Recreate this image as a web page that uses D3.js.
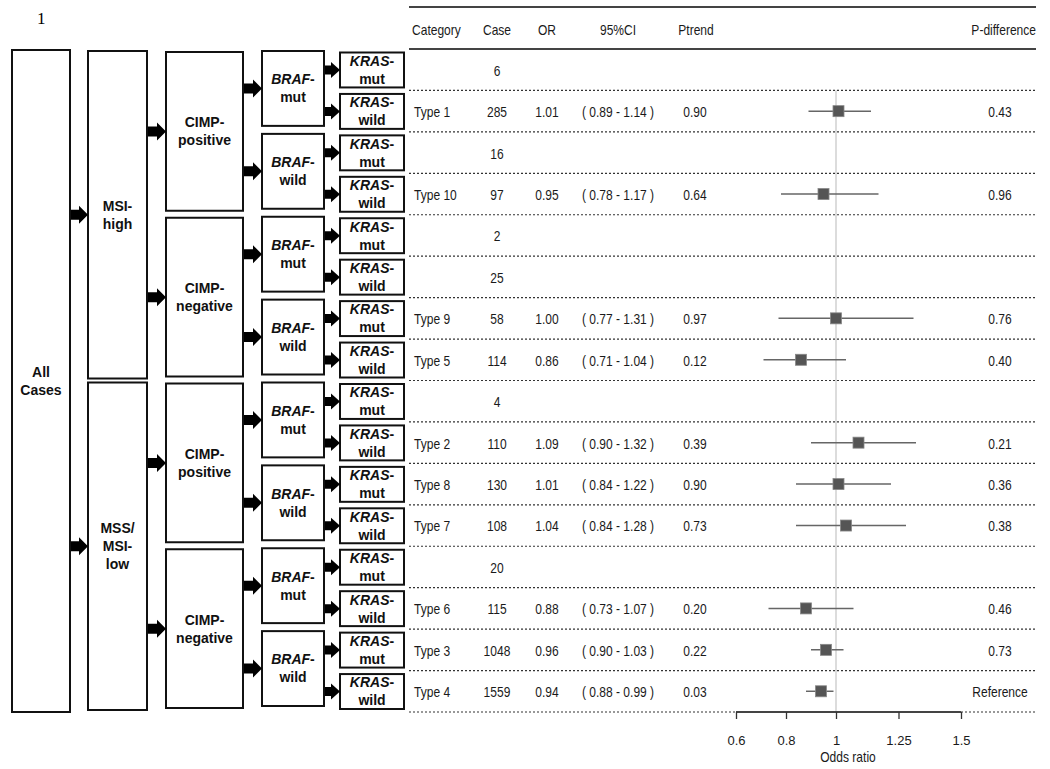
<!DOCTYPE html>
<html>
<head>
<meta charset="utf-8">
<script src="https://cdn.jsdelivr.net/npm/d3@7"></script>
<style>
  html, body { margin: 0; padding: 0; background: #fff; }
  svg { display: block; }
  .tbl { font-family: "Liberation Sans Narrow", "Arial Narrow", "Liberation Sans", Arial, sans-serif; font-size: 14px; fill: #1a1a1a; }
  .box text { font-family: "Liberation Sans", Arial, sans-serif; font-size: 14px; font-weight: bold; fill: #111; }
</style>
</head>
<body>
<svg id="chart" width="1050" height="769"></svg>
<script>
// ---------------- DATA ----------------
const categories = [null, "Type 1", null, "Type 10", null, null, "Type 9", "Type 5", null, "Type 2", "Type 8", "Type 7", null, "Type 6", "Type 3", "Type 4"];
const cases      = [6, 285, 16, 97, 2, 25, 58, 114, 4, 110, 130, 108, 20, 115, 1048, 1559];
const oddsRatio  = [null, 1.01, null, 0.95, null, null, 1.00, 0.86, null, 1.09, 1.01, 1.04, null, 0.88, 0.96, 0.94];
const ciLow      = [null, 0.89, null, 0.78, null, null, 0.77, 0.71, null, 0.90, 0.84, 0.84, null, 0.73, 0.90, 0.88];
const ciHigh     = [null, 1.14, null, 1.17, null, null, 1.31, 1.04, null, 1.32, 1.22, 1.28, null, 1.07, 1.03, 0.99];
const pTrend     = [null, "0.90", null, "0.64", null, null, "0.97", "0.12", null, "0.39", "0.90", "0.73", null, "0.20", "0.22", "0.03"];
const pDiff      = [null, "0.43", null, "0.96", null, null, "0.76", "0.40", null, "0.21", "0.36", "0.38", null, "0.46", "0.73", "Reference"];
const headers    = ["Category", "Case", "OR", "95%CI", "Ptrend", "P-difference"];
const tickValues = [0.6, 0.8, 1, 1.25, 1.5];
const tickLabels = ["0.6", "0.8", "1", "1.25", "1.5"];

// flow diagram levels
const level1 = [["All", "Cases"]];
const level2 = [["MSI-", "high"], ["MSS/", "MSI-", "low"]];
const level3 = [["CIMP-", "positive"], ["CIMP-", "negative"], ["CIMP-", "positive"], ["CIMP-", "negative"]];
const level4 = ["mut", "wild", "mut", "wild", "mut", "wild", "mut", "wild"];
const level5 = ["mut", "wild", "mut", "wild", "mut", "wild", "mut", "wild", "mut", "wild", "mut", "wild", "mut", "wild", "mut", "wild"];

// ---------------- LAYOUT ----------------
const svg = d3.select("#chart");
const nRows = cases.length;
const tableTop = 49, tableBottom = 712;
const y = d3.scaleLinear().domain([0, nRows]).range([tableTop, tableBottom]);
const x = d3.scaleLinear().domain([0.6, 1.5]).range([736, 961]);
const tblLeft = 409, tblRight = 1036;
const SX = 0.86; // horizontal condensing for narrow table font

function tText(px, py, str, anchor) {
  svg.append("text").attr("class", "tbl")
    .attr("transform", `translate(${px},${py}) scale(${SX},1)`)
    .attr("dy", "0.35em").attr("text-anchor", anchor || "start").text(str);
}

// figure label
svg.append("text").attr("x", 37).attr("y", 24)
  .style("font-family", "'Liberation Serif', 'Times New Roman', serif").style("font-size", "17px").text("1");

// ---------- table lines ----------
svg.append("line").attr("x1", tblLeft).attr("x2", tblRight).attr("y1", 7).attr("y2", 7)
  .attr("stroke", "#444").attr("stroke-width", 2);
svg.append("line").attr("x1", tblLeft).attr("x2", tblRight).attr("y1", tableTop).attr("y2", tableTop)
  .attr("stroke", "#444").attr("stroke-width", 2);

d3.range(1, nRows + 1).forEach(i => {
  svg.append("line").attr("x1", tblLeft).attr("x2", tblRight)
    .attr("y1", y(i)).attr("y2", y(i))
    .attr("stroke", "#333").attr("stroke-width", 1.2).attr("stroke-dasharray", "2,2");
});

// reference line
svg.append("line").attr("x1", x(1)).attr("x2", x(1)).attr("y1", y(1)).attr("y2", tableBottom)
  .attr("stroke", "#d0d0d0").attr("stroke-width", 1.5);

// header
const colX = [412, 497, 547, 618, 696, 1036];
const colAnchor = ["start", "middle", "middle", "middle", "middle", "end"];
headers.forEach((h, i) => tText(colX[i], 30, h, colAnchor[i]));

// rows
const rowMid = i => y(i + 0.5);
const fmt2 = d3.format(".2f");
cases.forEach((c, i) => {
  const ty = rowMid(i) + 1;
  if (categories[i]) tText(414, ty, categories[i], "start");
  tText(497, ty, c, "middle");
  if (oddsRatio[i] != null) {
    tText(547, ty, fmt2(oddsRatio[i]), "middle");
    tText(618, ty, "( " + fmt2(ciLow[i]) + " - " + fmt2(ciHigh[i]) + " )", "middle");
    tText(695, ty, pTrend[i], "middle");
    tText(1000, ty, pDiff[i], "middle");
  }
});

// forest marks
const forestIdx = d3.range(nRows).filter(i => oddsRatio[i] != null);
svg.append("g").selectAll("line").data(forestIdx).join("line")
  .attr("x1", i => x(ciLow[i])).attr("x2", i => x(ciHigh[i]))
  .attr("y1", i => rowMid(i)).attr("y2", i => rowMid(i))
  .attr("stroke", "#666").attr("stroke-width", 1.5);
const sq = 11;
svg.append("g").selectAll("rect").data(forestIdx).join("rect")
  .attr("x", i => x(oddsRatio[i]) - sq / 2).attr("y", i => rowMid(i) - sq / 2)
  .attr("width", sq).attr("height", sq)
  .attr("fill", "#555").attr("stroke", "#888").attr("stroke-width", 0.8);

// axis
const axis = d3.axisBottom(x).tickValues(tickValues)
  .tickFormat((d, i) => tickLabels[i]).tickSize(7).tickPadding(17);
const ax = svg.append("g").attr("transform", `translate(0,${tableBottom})`).call(axis);
ax.select(".domain").attr("stroke", "#444").attr("stroke-width", 2.2).attr("d", `M${x(0.6)},0H${x(1.5)}`);
ax.selectAll(".tick line").attr("stroke", "#333").attr("stroke-width", 1.3);
ax.selectAll(".tick text").attr("fill", "#1a1a1a")
  .style("font-family", "'Liberation Sans', Arial, sans-serif").style("font-size", "13px");
tText(848, 757, "Odds ratio", "middle");

// ---------------- FLOW DIAGRAM ----------------
const boxG = svg.append("g").attr("class", "box");
function drawBox(x0, x1, r0, r1, insetT, insetB, lines, italicFirst) {
  const top = y(r0) + insetT, bot = y(r1) - insetB;
  boxG.append("rect").attr("x", x0).attr("y", top).attr("width", x1 - x0).attr("height", bot - top)
    .attr("fill", "#fff").attr("stroke", "#111").attr("stroke-width", 2);
  const cx = (x0 + x1) / 2, cy = (top + bot) / 2;
  const lh = 18;
  lines.forEach((t, k) => {
    const ty = cy + (k - (lines.length - 1) / 2) * lh;
    const txt = boxG.append("text").attr("x", cx).attr("y", ty).attr("dy", "0.35em").attr("text-anchor", "middle");
    if (italicFirst && k === 0) {
      txt.append("tspan").style("font-style", "italic").text(t.slice(0, -1));
      txt.append("tspan").text("-");
    } else {
      txt.text(t);
    }
  });
  return cy;
}
function arrow(x0, x1, yc, headH, shaftH) {
  const hl = 9;
  const p = d3.path();
  p.moveTo(x0, yc - shaftH); p.lineTo(x1 - hl, yc - shaftH); p.lineTo(x1 - hl, yc - headH);
  p.lineTo(x1, yc); p.lineTo(x1 - hl, yc + headH); p.lineTo(x1 - hl, yc + shaftH);
  p.lineTo(x0, yc + shaftH); p.closePath();
  svg.append("path").attr("d", p.toString()).attr("fill", "#000");
}

level1.forEach((l) => drawBox(12, 70, 0, nRows, 1, 0, l, false));
level2.forEach((l, i) => {
  const cy = drawBox(88, 147, i * 8, i * 8 + 8, 2, 2, l, false);
  arrow(71, 88, cy, 9, 5);
});
level3.forEach((l, i) => {
  const cy = drawBox(166, 243, i * 4, i * 4 + 4, 3, 4, l, false);
  arrow(148, 166, cy, 9, 5);
});
level4.forEach((l, i) => {
  const cy = drawBox(262, 324, i * 2, i * 2 + 2, 2, 6, ["BRAF-", l], true);
  arrow(244, 262, cy, 9, 5);
});
level5.forEach((l, i) => {
  const cy = drawBox(340, 404, i, i + 1, 3.5, 3, ["KRAS-", l], true);
  arrow(325, 340, cy, 8, 4.5);
});
</script>
</body>
</html>
